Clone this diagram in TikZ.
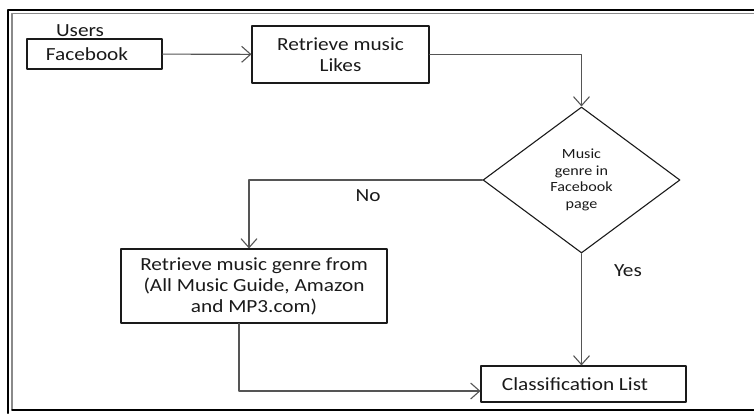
\documentclass[tikz,border=0pt]{standalone}
\usepackage{fontspec}
\setmainfont{Carlito}[FakeStretch=1.15]
\usetikzlibrary{arrows.meta, shapes.geometric, positioning}
\definecolor{fc-ink}{HTML}{1A1A1A}
\definecolor{fc-line}{HTML}{555555}
\definecolor{fc-frame}{HTML}{8A8A8A}

\begin{document}
\begin{tikzpicture}[x=1pt, y=-1pt, >={Straight Barb[length=9pt, width=16pt]},
    line cap=round, line join=round,
    box/.style={draw=fc-line, line width=1.1pt, fc-ink, font=\fontsize{18.5}{21}\selectfont,
      align=center, inner sep=0pt},
    pull/.style={execute at begin node=\hspace*{-#1}},
    decision/.style={diamond, draw=fc-line, line width=1.1pt, fc-ink, inner sep=0pt,
      minimum width=197pt, minimum height=146pt, align=center,
      font=\fontsize{14}{16.7}\selectfont},
    flow/.style={draw=fc-line, line width=1.1pt},
    tag/.style={fc-ink, font=\fontsize{18.5}{21}\selectfont}]
  \useasboundingbox (0,0) rectangle (754,413);
  % ramme
  \draw[black, line width=2pt] (8,413) -- (8,10) -- (754,10);
  \draw[fc-frame, line width=1.5pt] (754,13.5) -- (12,13.5) -- (12,410) -- (754,410);
  \draw[black, line width=1.2pt] (12,410) -- (754,410);
  % trin
  \node[box, pull=15pt, minimum width=135pt, minimum height=30pt] (fb) at (94.5,54) {Facebook};
  \node[tag] (users) at (80,31) {Users};
  \node[box, minimum width=177pt, minimum height=57pt] (likes) at (340.5,54.5)
    {Retrieve music\\Likes};
  \node[decision] (genre) at (581.5,180) {Music\\genre in\\Facebook\\page};
  \node[box, minimum width=266pt, minimum height=74pt] (lookup) at (254,286)
    {Retrieve music genre from\\(All Music Guide, Amazon\\and MP3.com)};
  \node[box, pull=17pt, minimum width=205pt, minimum height=36pt] (classes) at (583.5,384)
    {Classification List};
  % forbindelser
  \draw[flow, ->] (fb) -- (likes);
  \draw[flow, ->] (likes.east) -| (genre.north);
  \draw[flow, ->] (genre.west) -| ([xshift=-5pt]lookup.north);
  \draw[flow, ->] ([xshift=-15pt]lookup.south) |- ([yshift=-7pt]classes.west);
  \draw[flow, ->] (genre.south) -- (genre.south |- classes.north);
  % etiketter
  \node[tag] (no) at (368,196) {No};
  \node[tag] (yes) at (628,271) {Yes};
\end{tikzpicture}
\end{document}
